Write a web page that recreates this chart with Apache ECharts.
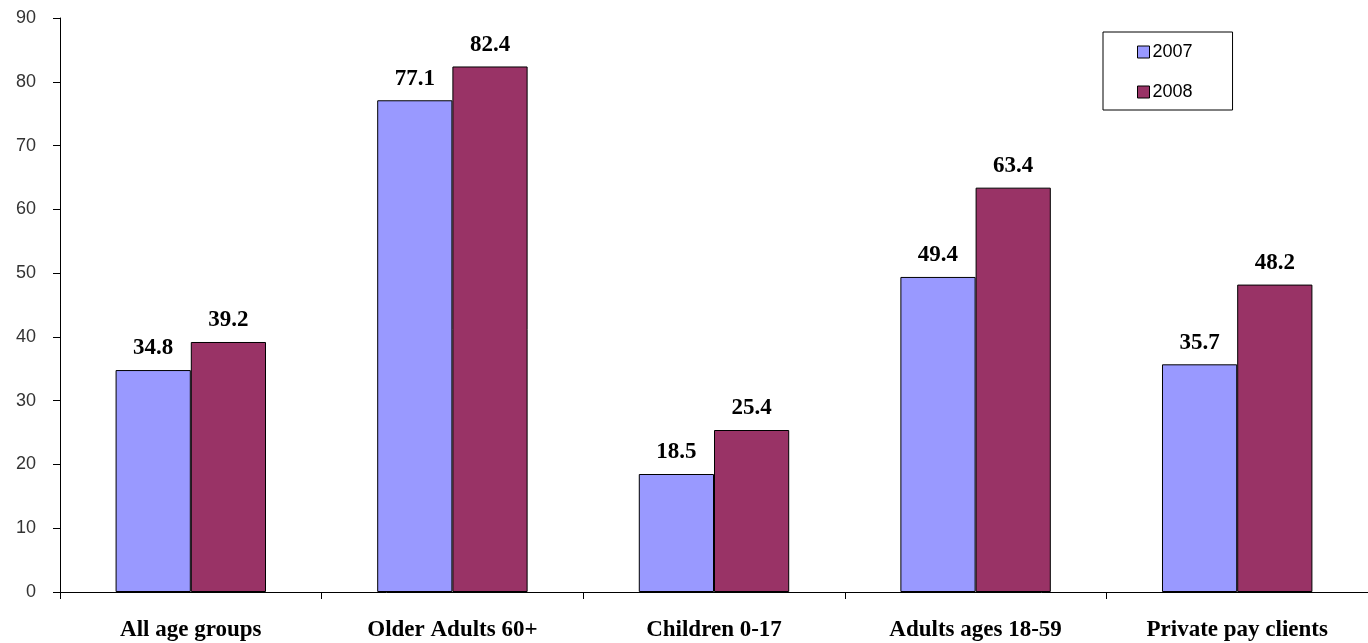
<!DOCTYPE html>
<html><head><meta charset="utf-8">
<script src="https://cdn.jsdelivr.net/npm/echarts@6/dist/echarts.min.js"></script>
<style>html,body{margin:0;padding:0;background:#fff}#c{width:1368px;height:643px}</style>
</head><body><div id="c"></div>
<script>
const categories = ["All age groups", "Older Adults 60+", "Children 0-17", "Adults ages 18-59", "Private pay clients"];
const values2007 = [34.8, 77.1, 18.5, 49.4, 35.7];
const values2008 = [39.2, 82.4, 25.4, 63.4, 48.2];
const yTicks = { min: 0, max: 90, interval: 10 };

const chart = echarts.init(document.getElementById('c'));
const labelStyle = {
  show: true, position: 'top', distance: 10,
  fontFamily: 'Liberation Serif', fontWeight: 'bold', fontSize: 23, color: '#000',
  formatter: p => p.value.toFixed(1)
};
chart.setOption({
  animation: false,
  grid: { left: 60, right: 0, top: 18, bottom: 51, containLabel: false },
  legend: {
    orient: 'vertical', left: 1103, top: 32,
    padding: [11, 40, 9, 34], itemGap: 22,
    itemWidth: 12, itemHeight: 12,
    borderColor: '#000', borderWidth: 1, backgroundColor: '#fff',
    textStyle: { fontFamily: 'Liberation Sans', fontSize: 18, color: '#000', padding: [0, 0, 0, -2] },
    data: [
      { name: '2007', icon: 'rect', itemStyle: { borderColor: '#000', borderWidth: 1 } },
      { name: '2008', icon: 'rect', itemStyle: { borderColor: '#000', borderWidth: 1 } }
    ]
  },
  xAxis: {
    type: 'category', data: categories,
    axisLine: { lineStyle: { color: '#000', width: 1 } },
    axisTick: { show: true, length: 7, alignWithLabel: false, lineStyle: { color: '#000' } },
    axisLabel: { margin: 27, fontFamily: 'Liberation Serif', fontWeight: 'bold', fontSize: 23, color: '#000' }
  },
  yAxis: {
    type: 'value', min: yTicks.min, max: yTicks.max, interval: yTicks.interval,
    splitLine: { show: false },
    axisLine: { show: true, lineStyle: { color: '#000', width: 1 } },
    axisTick: { show: true, length: 7, lineStyle: { color: '#000' } },
    axisLabel: { margin: 24, fontFamily: 'Liberation Sans', fontSize: 18, color: '#333' }
  },
  series: [
    { name: '2007', type: 'bar', data: values2007, barGap: '0%', barCategoryGap: '42.5%',
      itemStyle: { color: '#9999FF', borderColor: '#000', borderWidth: 1 }, label: labelStyle },
    { name: '2008', type: 'bar', data: values2008, barGap: '0%', barCategoryGap: '42.5%',
      itemStyle: { color: '#993366', borderColor: '#000', borderWidth: 1 }, label: labelStyle }
  ]
});
</script></body></html>
